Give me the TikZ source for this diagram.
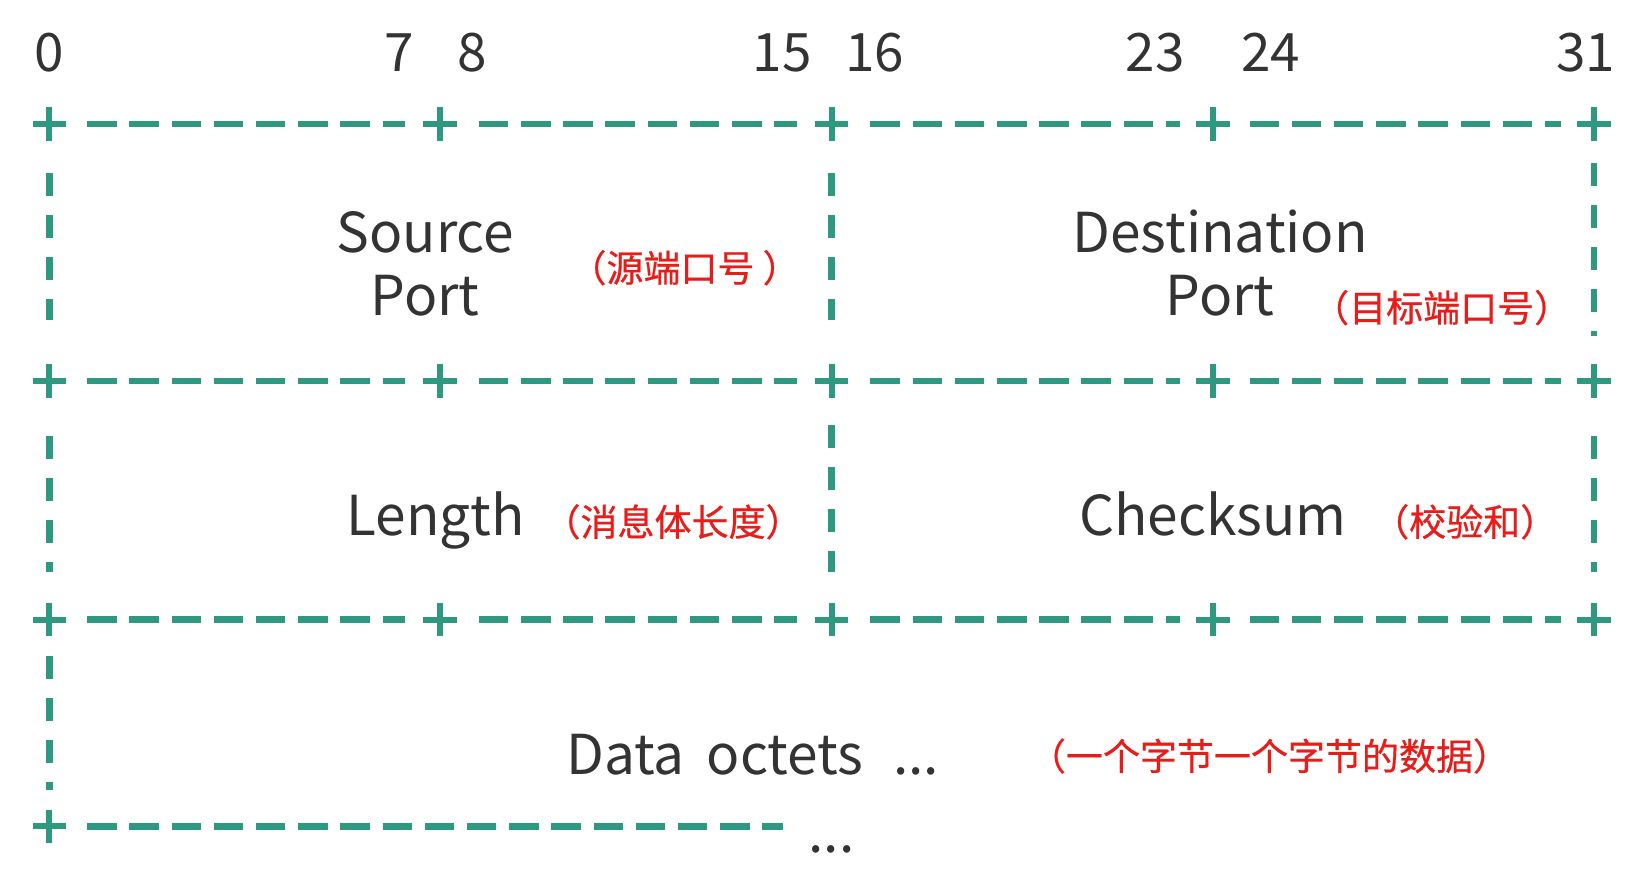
\documentclass[tikz,border=0pt]{standalone}
\usepackage{fontspec}
\setmainfont{Noto Sans CJK SC}
\newfontfamily\notefont[FakeBold=0.6]{Noto Sans CJK SC}
\definecolor{tealline}{RGB}{47,152,128}
\definecolor{rednote}{RGB}{232,28,24}
\definecolor{inkgray}{RGB}{51,51,51}
\begin{document}
\begin{tikzpicture}[x=1.05pt,y=-1.05pt,
  hdash/.style={draw=tealline,line width=6.5pt,dash pattern=on 29.5pt off 12.7pt},
  vdash/.style={draw=tealline,line width=6.5pt,dash pattern=on 23pt off 19pt},
  plusmark/.style={draw=tealline,line width=6pt},
  bitnum/.style={font=\fontsize{53}{60}\selectfont,text=inkgray,anchor=base},
  fieldlab/.style={font=\fontsize{55}{64}\selectfont,text=inkgray,anchor=base},
  note/.style={font=\notefont\fontsize{37}{40}\selectfont,text=rednote}
]
\useasboundingbox (0,0) rectangle (1567.6,851.4);
% bit numbers
\node[bitnum] (b0)  at (47,68)   {0};
\node[bitnum] (b7)  at (380,68)  {7};
\node[bitnum] (b8)  at (450,68)  {8};
\node[bitnum] (b15) at (745,68)  {15};
\node[bitnum] (b16) at (833,68)  {16};
\node[bitnum] (b23) at (1100,68) {23};
\node[bitnum] (b24) at (1210,68) {24};
\node[bitnum] (b31) at (1510,68) {31};
% plus marks
\foreach \y in {118,363,590}{
  \foreach \x in {47,419,792,1155,1518}{
    \draw[plusmark] (\x-16,\y) -- (\x+16,\y) (\x,\y-16) -- (\x,\y+16);
  }
}
\draw[plusmark] (47-16,787) -- (47+16,787) (47,787-16) -- (47,787+16);
% horizontal dashes
\foreach \y in {118,363,590}{
  \draw[hdash] (83,\y) -- (386,\y);
  \draw[hdash] (456,\y) -- (759,\y);
  \draw[hdash] (829,\y) -- (1124,\y);
  \draw[hdash] (1190,\y) -- (1487,\y);
}
\draw[hdash] (83,787) -- (746,787);
% vertical dashes
\draw[vdash] (47,165) -- (47,305);
\draw[vdash] (792,165) -- (792,305);
\draw[vdash] (1518,155) -- (1518,320);
\draw[vdash] (47,415) -- (47,545);
\draw[vdash] (792,405) -- (792,545);
\draw[vdash] (1518,415) -- (1518,545);
\draw[vdash] (47,625) -- (47,752);
% field labels
\node[fieldlab] (src1) at (405,240) {Source};
\node[fieldlab] (src2) at (405,300) {Port};
\node[note] (srcn) at (652,255) {（源端口号 ）};
\node[fieldlab] (dst1) at (1162,240) {Destination};
\node[fieldlab] (dst2) at (1162,300) {Port};
\node[note] (dstn) at (1373,293) {（目标端口号）};
\node[fieldlab] (len) at (415,510) {Length};
\node[note] (lenn) at (641,497) {（消息体长度）};
\node[fieldlab] (chk) at (1155,510) {Checksum};
\node[note] (chkn) at (1395,497) {（校验和）};
\node[fieldlab,anchor=base west] (data) at (536,738) {Data\hspace{22pt}octets\hspace{30pt}...};
\node[note] (datan) at (1209,720) {（一个字节一个字节的数据）};
\node[fieldlab] (more) at (792,812) {...};
\end{tikzpicture}
\end{document}
